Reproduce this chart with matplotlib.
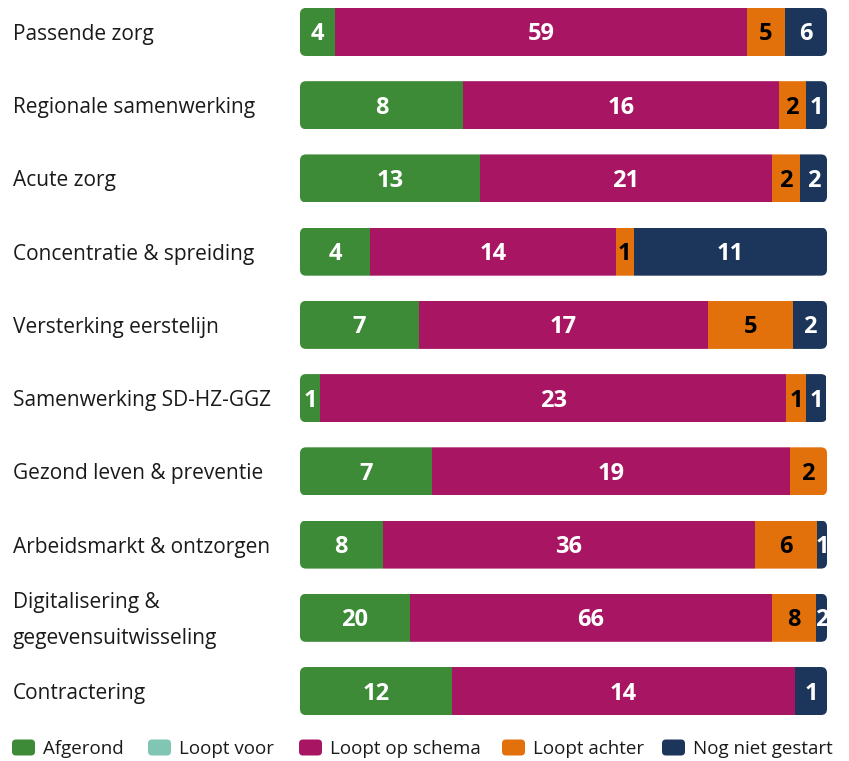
import matplotlib
matplotlib.use("Agg")
import matplotlib.pyplot as plt
from matplotlib.patches import FancyBboxPatch
import numpy as np

plt.rcParams['font.family'] = ['Open Sans', 'DejaVu Sans']

# data
thema = ['Passende zorg', 'Regionale samenwerking', 'Acute zorg',
         'Concentratie & spreiding', 'Versterking eerstelijn',
         'Samenwerking SD-HZ-GGZ', 'Gezond leven & preventie',
         'Arbeidsmarkt & ontzorgen', 'Digitalisering &\ngegevensuitwisseling',
         'Contractering']
series = ['Afgerond', 'Loopt voor', 'Loopt op schema', 'Loopt achter', 'Nog niet gestart']

# aantallen (labels in de balken)
afgerond = [4, 8, 13, 4, 7, 1, 7, 8, 20, 12]
loopt_voor = [0, 0, 0, 0, 0, 0, 0, 0, 0, 0]
op_schema = [59, 16, 21, 14, 17, 23, 19, 36, 66, 14]
achter = [5, 2, 2, 1, 5, 1, 2, 6, 8, 0]
niet_gestart = [6, 1, 2, 11, 2, 1, 0, 1, 2, 1]

# aandeel in % (breedte van de segmenten zoals getekend)
pct_afgerond = [6.7, 31.0, 34.2, 13.3, 22.6, 3.8, 25.0, 15.7, 20.8, 28.8]
pct_voor = [0, 0, 0, 0, 0, 0, 0, 0, 0, 0]
pct_schema = [78.1, 59.8, 55.3, 46.7, 54.8, 88.5, 67.9, 70.6, 68.8, 65.1]
pct_achter = [7.2, 5.2, 5.3, 3.3, 16.1, 3.8, 7.1, 11.8, 8.3, 0]
pct_niet = [8.0, 4.0, 5.3, 36.7, 6.5, 3.8, 0, 2.0, 2.1, 6.1]

kleuren = ['#3d8a37', '#80c6b3', '#a81563', '#e2700b', '#1c355b']
tekstkleur = ['white', 'white', 'white', 'black', 'white']

aantal = np.array([afgerond, loopt_voor, op_schema, achter, niet_gestart])
breedte = np.array([pct_afgerond, pct_voor, pct_schema, pct_achter, pct_niet])

W, H = 849, 761
fig = plt.figure(figsize=(W / 100, H / 100), dpi=100)
ax_l, ax_r = 300, 827
ax_t, ax_b = 7.8, 715.2
ax = fig.add_axes([ax_l / W, 1 - ax_b / H, (ax_r - ax_l) / W, (ax_b - ax_t) / H])
ylo, yhi = -0.33, 9.33
ax.set_xlim(0, 100)
ax.set_ylim(yhi, ylo)
ax.axis('off')

bar_h = 0.656
xpp = 100.0 / (ax_r - ax_l)
ypp = (yhi - ylo) / (ax_b - ax_t)
r_px = 6
dy = 2.5 * ypp  # tekst iets onder het midden, zoals in het origineel

for i in range(len(thema)):
    clip = FancyBboxPatch((0, i - bar_h / 2), 100, bar_h,
                          boxstyle='round,pad=0,rounding_size=%f' % (r_px * xpp),
                          mutation_aspect=ypp / xpp,
                          transform=ax.transData, facecolor='none', edgecolor='none')
    ax.add_patch(clip)
    left = 0
    for s in range(len(series)):
        w = breedte[s, i]
        if aantal[s, i] == 0:
            continue
        bars = ax.barh(i, w, left=left, height=bar_h, color=kleuren[s], linewidth=0)
        for b in bars:
            b.set_clip_path(clip)
        ax.text(left + w / 2, i + dy, '%d' % aantal[s, i], ha='center', va='center',
                color=tekstkleur[s], fontsize=17, fontweight='bold')
        left += w

    ax.text(-(ax_l - 13) * xpp, i + dy, thema[i], ha='left', va='center',
            fontsize=15, color='#1a1a1a', linespacing=1.9, clip_on=False)

# legenda
leg_x = [12, 148, 299, 502, 662]
leg_y = 748.5
for s in range(len(series)):
    sq = FancyBboxPatch((leg_x[s] / W, 1 - (leg_y + 7) / H), 23 / W, 16 / H,
                        boxstyle='round,pad=0,rounding_size=%f' % (4 / W),
                        mutation_aspect=W / H,
                        transform=fig.transFigure, facecolor=kleuren[s], edgecolor='none')
    fig.add_artist(sq)
    fig.text((leg_x[s] + 31) / W, 1 - leg_y / H, series[s], ha='left', va='center',
             fontsize=13.5, color='#1a1a1a')

fig.savefig('out.png', dpi=100)
